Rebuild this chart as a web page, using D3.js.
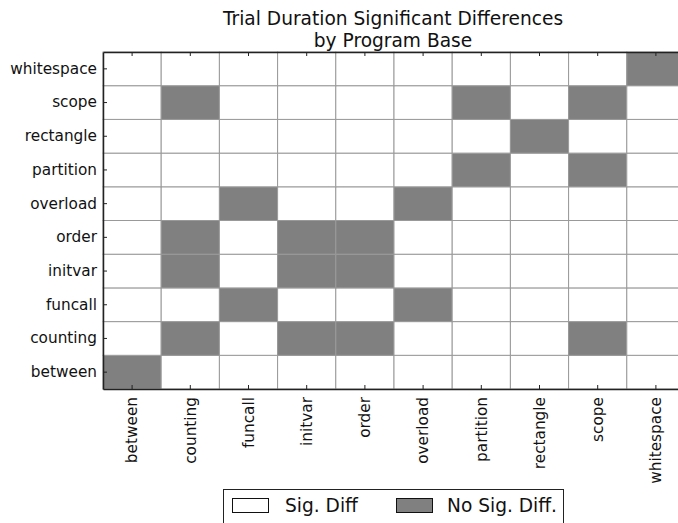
<!DOCTYPE html>
<html>
<head>
<meta charset="utf-8">
<script src="https://cdn.jsdelivr.net/npm/d3@7"></script>
<style>
  body { margin: 0; background: #fff; }
  svg { display: block; font-family: "DejaVu Sans", sans-serif; }
</style>
</head>
<body>
<svg id="chart" width="678" height="523"></svg>
<script>
// Program bases, shared by both axes (x left→right, y bottom→top)
const programs = ["between", "counting", "funcall", "initvar", "order",
                  "overload", "partition", "rectangle", "scope", "whitespace"];

// 1 = no significant difference, 0 = significant difference.
// One row per program (row program vs. each column program).
const betweenRow    = [1, 0, 0, 0, 0, 0, 0, 0, 0, 0];
const countingRow   = [0, 1, 0, 1, 1, 0, 0, 0, 1, 0];
const funcallRow    = [0, 0, 1, 0, 0, 1, 0, 0, 0, 0];
const initvarRow    = [0, 1, 0, 1, 1, 0, 0, 0, 0, 0];
const orderRow      = [0, 1, 0, 1, 1, 0, 0, 0, 0, 0];
const overloadRow   = [0, 0, 1, 0, 0, 1, 0, 0, 0, 0];
const partitionRow  = [0, 0, 0, 0, 0, 0, 1, 0, 1, 0];
const rectangleRow  = [0, 0, 0, 0, 0, 0, 0, 1, 0, 0];
const scopeRow      = [0, 1, 0, 0, 0, 0, 1, 0, 1, 0];
const whitespaceRow = [0, 0, 0, 0, 0, 0, 0, 0, 0, 1];

const rows = [betweenRow, countingRow, funcallRow, initvarRow, orderRow,
              overloadRow, partitionRow, rectangleRow, scopeRow, whitespaceRow];

const legendLabels = ["Sig. Diff", "No Sig. Diff."];
const titleLines = ["Trial Duration Significant Differences", "by Program Base"];

const cells = [];
rows.forEach((r, i) => r.forEach((v, j) => cells.push({ row: programs[i], col: programs[j], value: v })));

const svg = d3.select("#chart");
const margin = { left: 103, top: 52 };
const plotW = 582, plotH = 337;
const tickFont = 15.3, largeFont = 18.6;

const x = d3.scaleBand().domain(programs).range([margin.left, margin.left + plotW]).padding(0);
const y = d3.scaleBand().domain(programs).range([margin.top + plotH, margin.top]).padding(0);
const color = d3.scaleOrdinal().domain([0, 1]).range(["#ffffff", "#808080"]);

// cells
svg.append("g").selectAll("rect").data(cells).join("rect")
  .attr("x", d => x(d.col))
  .attr("y", d => y(d.row))
  .attr("width", x.bandwidth())
  .attr("height", y.bandwidth())
  .attr("fill", d => color(d.value))
  .attr("stroke", "#999")
  .attr("stroke-width", 1);

// axes with inward ticks at cell centres
const tickLen = 4;
const axisBottomG = svg.append("g").attr("transform", `translate(0,${margin.top + plotH})`)
  .call(d3.axisBottom(x).tickSizeInner(-tickLen).tickSizeOuter(0));

const axisLeftG = svg.append("g").attr("transform", `translate(${margin.left},0)`)
  .call(d3.axisLeft(y).tickSizeInner(-tickLen).tickSizeOuter(0).tickPadding(6));

const axisTopG = svg.append("g").attr("transform", `translate(0,${margin.top})`)
  .call(d3.axisTop(x).tickSizeInner(-tickLen).tickSizeOuter(0));
axisTopG.selectAll("text").remove();

const axisRightG = svg.append("g").attr("transform", `translate(${margin.left + plotW},0)`)
  .call(d3.axisRight(y).tickSizeInner(-tickLen).tickSizeOuter(0));
axisRightG.selectAll("text").remove();

[axisBottomG, axisLeftG, axisTopG, axisRightG].forEach(g => {
  g.select(".domain").attr("stroke", "#222").attr("stroke-width", 1.5);
  g.selectAll(".tick line").attr("stroke", "#222");
  g.selectAll(".tick text").attr("font-size", tickFont).attr("fill", "#111")
    .attr("font-family", "DejaVu Sans, sans-serif");
});
axisBottomG.selectAll(".tick text")
  .attr("transform", "rotate(-90)")
  .attr("text-anchor", "end")
  .attr("x", -8).attr("y", 0).attr("dy", "0.35em");

// title
svg.append("g").selectAll("text").data(titleLines).join("text")
  .attr("x", margin.left + plotW / 2 - 1)
  .attr("y", (d, i) => 25 + i * 21.5)
  .attr("text-anchor", "middle")
  .attr("font-size", largeFont)
  .attr("fill", "#111")
  .text(d => d);

// legend
const legend = svg.append("g");
legend.append("rect")
  .attr("x", 223.5).attr("y", 489.5).attr("width", 340).attr("height", 50)
  .attr("fill", "#fff").attr("stroke", "#222").attr("stroke-width", 1);
const items = legend.selectAll("g.item").data(legendLabels).join("g")
  .attr("class", "item")
  .attr("transform", (d, i) => `translate(${i === 0 ? 232 : 396},498)`);
items.append("rect")
  .attr("x", 0.5).attr("y", 0.5).attr("width", 36).attr("height", 14)
  .attr("fill", (d, i) => color(i)).attr("stroke", "#111");
items.append("text")
  .attr("x", (d, i) => i === 0 ? 53 : 51)
  .attr("y", 14)
  .attr("font-size", largeFont)
  .attr("fill", "#111")
  .text(d => d);
</script>
</body>
</html>
